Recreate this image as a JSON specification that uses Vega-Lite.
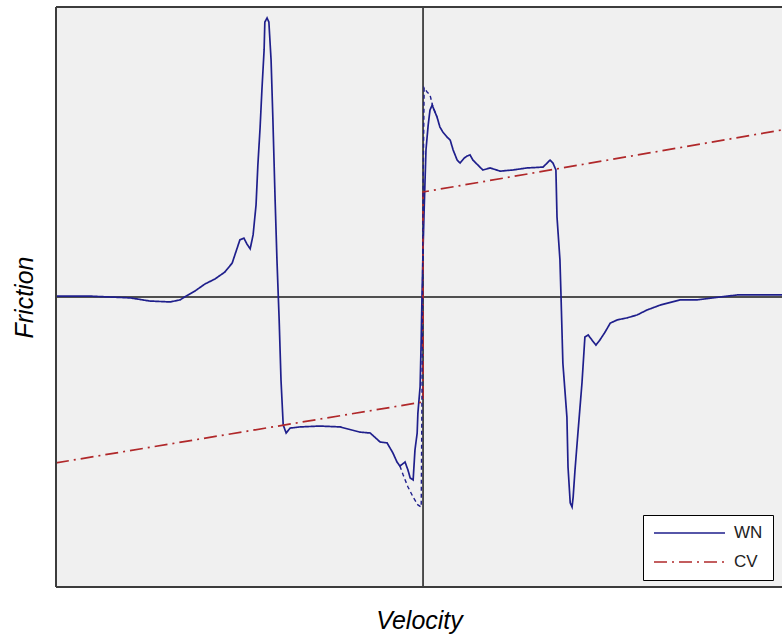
{
  "$schema": "https://vega.github.io/schema/vega-lite/v6.json",
  "width": 726,
  "height": 580,
  "autosize": {"type": "none"},
  "padding": {"left": 56, "top": 7, "right": 0, "bottom": 51},
  "config": {
    "view": {"stroke": null, "fill": "#f0f0f0"},
    "font": "Liberation Sans",
    "axis": {"labels": false, "ticks": false, "domain": false, "grid": false, "titleFont": "Liberation Sans", "titleFontStyle": "italic", "titleFontWeight": "normal", "titleFontSize": 25, "titleColor": "#000000"},
    "axisX": {"titlePadding": 21},
    "axisY": {"titlePadding": 19},
    "legend": {"orient": "none", "legendX": 587, "legendY": 508, "fillColor": "#ffffff", "strokeColor": "#000000", "padding": 10, "clipHeight": 16, "symbolType": "stroke", "symbolSize": 5041, "symbolStrokeWidth": 1.5, "labelFontSize": 17, "labelFont": "Liberation Sans", "labelColor": "#222222", "labelOffset": 8, "rowPadding": 12}
  },
  "datasets": {
    "lines": [
      {"series":"WN","i":1,"v":-1.0,"f":0.003},
      {"series":"WN","i":2,"v":-0.907,"f":0.003},
      {"series":"WN","i":3,"v":-0.853,"f":0.0},
      {"series":"WN","i":4,"v":-0.798,"f":-0.003},
      {"series":"WN","i":5,"v":-0.744,"f":-0.014},
      {"series":"WN","i":6,"v":-0.689,"f":-0.017},
      {"series":"WN","i":7,"v":-0.662,"f":-0.010},
      {"series":"WN","i":8,"v":-0.646,"f":0.003},
      {"series":"WN","i":9,"v":-0.621,"f":0.021},
      {"series":"WN","i":10,"v":-0.594,"f":0.045},
      {"series":"WN","i":11,"v":-0.567,"f":0.062},
      {"series":"WN","i":12,"v":-0.540,"f":0.086},
      {"series":"WN","i":13,"v":-0.520,"f":0.117},
      {"series":"WN","i":14,"v":-0.510,"f":0.155},
      {"series":"WN","i":15,"v":-0.499,"f":0.197},
      {"series":"WN","i":16,"v":-0.488,"f":0.203},
      {"series":"WN","i":17,"v":-0.480,"f":0.183},
      {"series":"WN","i":18,"v":-0.471,"f":0.166},
      {"series":"WN","i":19,"v":-0.463,"f":0.214},
      {"series":"WN","i":20,"v":-0.455,"f":0.317},
      {"series":"WN","i":21,"v":-0.450,"f":0.455},
      {"series":"WN","i":22,"v":-0.444,"f":0.583},
      {"series":"WN","i":23,"v":-0.439,"f":0.714},
      {"series":"WN","i":24,"v":-0.433,"f":0.852},
      {"series":"WN","i":25,"v":-0.431,"f":0.948},
      {"series":"WN","i":26,"v":-0.425,"f":0.962},
      {"series":"WN","i":27,"v":-0.420,"f":0.948},
      {"series":"WN","i":28,"v":-0.414,"f":0.817},
      {"series":"WN","i":29,"v":-0.409,"f":0.610},
      {"series":"WN","i":30,"v":-0.403,"f":0.334},
      {"series":"WN","i":31,"v":-0.398,"f":0.128},
      {"series":"WN","i":32,"v":-0.392,"f":-0.079},
      {"series":"WN","i":33,"v":-0.387,"f":-0.286},
      {"series":"WN","i":34,"v":-0.381,"f":-0.441},
      {"series":"WN","i":35,"v":-0.373,"f":-0.469},
      {"series":"WN","i":36,"v":-0.362,"f":-0.452},
      {"series":"WN","i":37,"v":-0.335,"f":-0.448},
      {"series":"WN","i":38,"v":-0.281,"f":-0.445},
      {"series":"WN","i":39,"v":-0.226,"f":-0.448},
      {"series":"WN","i":40,"v":-0.172,"f":-0.466},
      {"series":"WN","i":41,"v":-0.144,"f":-0.469},
      {"series":"WN","i":42,"v":-0.117,"f":-0.500},
      {"series":"WN","i":43,"v":-0.098,"f":-0.503},
      {"series":"WN","i":44,"v":-0.082,"f":-0.538},
      {"series":"WN","i":45,"v":-0.071,"f":-0.569},
      {"series":"WN","i":46,"v":-0.063,"f":-0.583},
      {"series":"WN","i":47,"v":-0.049,"f":-0.569},
      {"series":"WN","i":48,"v":-0.041,"f":-0.597},
      {"series":"WN","i":49,"v":-0.035,"f":-0.624},
      {"series":"WN","i":50,"v":-0.027,"f":-0.631},
      {"series":"WN","i":51,"v":-0.022,"f":-0.528},
      {"series":"WN","i":52,"v":-0.016,"f":-0.469},
      {"series":"WN","i":53,"v":-0.014,"f":-0.400},
      {"series":"WN","i":54,"v":-0.008,"f":-0.310},
      {"series":"WN","i":55,"v":-0.005,"f":-0.148},
      {"series":"WN","i":56,"v":-0.003,"f":-0.010},
      {"series":"WN","i":57,"v":0.0,"f":0.162},
      {"series":"WN","i":58,"v":0.003,"f":0.300},
      {"series":"WN","i":59,"v":0.008,"f":0.507},
      {"series":"WN","i":60,"v":0.014,"f":0.593},
      {"series":"WN","i":61,"v":0.019,"f":0.645},
      {"series":"WN","i":62,"v":0.025,"f":0.662},
      {"series":"WN","i":63,"v":0.027,"f":0.655},
      {"series":"WN","i":64,"v":0.038,"f":0.621},
      {"series":"WN","i":65,"v":0.046,"f":0.586},
      {"series":"WN","i":66,"v":0.054,"f":0.569},
      {"series":"WN","i":67,"v":0.065,"f":0.552},
      {"series":"WN","i":68,"v":0.074,"f":0.541},
      {"series":"WN","i":69,"v":0.082,"f":0.507},
      {"series":"WN","i":70,"v":0.093,"f":0.472},
      {"series":"WN","i":71,"v":0.101,"f":0.462},
      {"series":"WN","i":72,"v":0.112,"f":0.479},
      {"series":"WN","i":73,"v":0.120,"f":0.486},
      {"series":"WN","i":74,"v":0.128,"f":0.490},
      {"series":"WN","i":75,"v":0.136,"f":0.472},
      {"series":"WN","i":76,"v":0.155,"f":0.448},
      {"series":"WN","i":77,"v":0.163,"f":0.438},
      {"series":"WN","i":78,"v":0.183,"f":0.445},
      {"series":"WN","i":79,"v":0.210,"f":0.434},
      {"series":"WN","i":80,"v":0.245,"f":0.438},
      {"series":"WN","i":81,"v":0.283,"f":0.445},
      {"series":"WN","i":82,"v":0.327,"f":0.448},
      {"series":"WN","i":83,"v":0.346,"f":0.472},
      {"series":"WN","i":84,"v":0.354,"f":0.462},
      {"series":"WN","i":85,"v":0.362,"f":0.438},
      {"series":"WN","i":86,"v":0.365,"f":0.276},
      {"series":"WN","i":87,"v":0.373,"f":0.128},
      {"series":"WN","i":88,"v":0.376,"f":0.0},
      {"series":"WN","i":89,"v":0.381,"f":-0.228},
      {"series":"WN","i":90,"v":0.392,"f":-0.414},
      {"series":"WN","i":91,"v":0.395,"f":-0.586},
      {"series":"WN","i":92,"v":0.401,"f":-0.710},
      {"series":"WN","i":93,"v":0.406,"f":-0.724},
      {"series":"WN","i":94,"v":0.409,"f":-0.690},
      {"series":"WN","i":95,"v":0.414,"f":-0.597},
      {"series":"WN","i":96,"v":0.422,"f":-0.469},
      {"series":"WN","i":97,"v":0.433,"f":-0.297},
      {"series":"WN","i":98,"v":0.441,"f":-0.138},
      {"series":"WN","i":99,"v":0.450,"f":-0.131},
      {"series":"WN","i":100,"v":0.460,"f":-0.148},
      {"series":"WN","i":101,"v":0.471,"f":-0.166},
      {"series":"WN","i":102,"v":0.482,"f":-0.148},
      {"series":"WN","i":103,"v":0.496,"f":-0.121},
      {"series":"WN","i":104,"v":0.510,"f":-0.090},
      {"series":"WN","i":105,"v":0.529,"f":-0.079},
      {"series":"WN","i":106,"v":0.556,"f":-0.072},
      {"series":"WN","i":107,"v":0.583,"f":-0.062},
      {"series":"WN","i":108,"v":0.610,"f":-0.045},
      {"series":"WN","i":109,"v":0.646,"f":-0.028},
      {"series":"WN","i":110,"v":0.700,"f":-0.010},
      {"series":"WN","i":111,"v":0.747,"f":-0.010},
      {"series":"WN","i":112,"v":0.809,"f":0.0},
      {"series":"WN","i":113,"v":0.856,"f":0.007},
      {"series":"WN","i":114,"v":0.978,"f":0.007},
      {"series":"CV","i":1,"v":-1.0,"f":-0.572},
      {"series":"CV","i":2,"v":0.0,"f":-0.362},
      {"series":"CV","i":3,"v":0.0,"f":0.362},
      {"series":"CV","i":4,"v":0.978,"f":0.576}
    ],
    "pass2": [
      {"i":1,"v":-0.063,"f":-0.583},
      {"i":2,"v":-0.054,"f":-0.614},
      {"i":3,"v":-0.041,"f":-0.655},
      {"i":4,"v":-0.027,"f":-0.690},
      {"i":5,"v":-0.014,"f":-0.717},
      {"i":6,"v":-0.005,"f":-0.724},
      {"i":7,"v":-0.003,"f":-0.355},
      {"i":8,"v":0.0,"f":0.334},
      {"i":9,"v":0.003,"f":0.721},
      {"i":10,"v":0.011,"f":0.707},
      {"i":11,"v":0.019,"f":0.697},
      {"i":12,"v":0.027,"f":0.655},
      {"i":13,"v":0.038,"f":0.621}
    ]
  },
  "layer": [
    {
      "data": {"values": [{"z": 0}]},
      "mark": {"type": "rule", "color": "#1a1a1a", "strokeWidth": 1.5},
      "encoding": {"x": {"field": "z", "type": "quantitative", "title": "Velocity", "scale": {"domain": [-1, 0.978], "nice": false, "zero": false}}}
    },
    {
      "data": {"values": [{"z": 0}]},
      "mark": {"type": "rule", "color": "#1a1a1a", "strokeWidth": 1.5},
      "encoding": {"y": {"field": "z", "type": "quantitative", "title": "Friction", "scale": {"domain": [-1, 1], "nice": false, "zero": false}}}
    },
    {
      "data": {"name": "lines"},
      "mark": {"type": "line", "strokeWidth": 1.7},
      "encoding": {
        "x": {"field": "v", "type": "quantitative", "title": "Velocity", "scale": {"domain": [-1, 0.978], "nice": false, "zero": false}},
        "y": {"field": "f", "type": "quantitative", "title": "Friction", "scale": {"domain": [-1, 1], "nice": false, "zero": false}},
        "order": {"field": "i"},
        "color": {"field": "series", "type": "nominal", "scale": {"domain": ["WN", "CV"], "range": ["#1f1f8c", "#b0282a"]}, "legend": {"title": null}},
        "strokeDash": {"field": "series", "type": "nominal", "scale": {"domain": ["WN", "CV"], "range": [[1, 0], [13, 5, 2, 5]]}, "legend": {"title": null}}
      }
    },
    {
      "data": {"name": "pass2"},
      "mark": {"type": "line", "strokeWidth": 1.4, "color": "#1f1f8c", "strokeDash": [4, 3]},
      "encoding": {
        "x": {"field": "v", "type": "quantitative", "title": "Velocity", "scale": {"domain": [-1, 0.978], "nice": false, "zero": false}},
        "y": {"field": "f", "type": "quantitative", "title": "Friction", "scale": {"domain": [-1, 1], "nice": false, "zero": false}},
        "order": {"field": "i"}
      }
    },
    {
      "data": {"values": [{"e": -1}]},
      "mark": {"type": "rule", "color": "#3c3c3c", "strokeWidth": 2},
      "encoding": {"x": {"field": "e", "type": "quantitative", "title": "Velocity", "scale": {"domain": [-1, 0.978], "nice": false, "zero": false}}}
    },
    {
      "data": {"values": [{"e": 1}, {"e": -1}]},
      "mark": {"type": "rule", "color": "#3c3c3c", "strokeWidth": 2},
      "encoding": {"y": {"field": "e", "type": "quantitative", "title": "Friction", "scale": {"domain": [-1, 1], "nice": false, "zero": false}}}
    }
  ]
}
